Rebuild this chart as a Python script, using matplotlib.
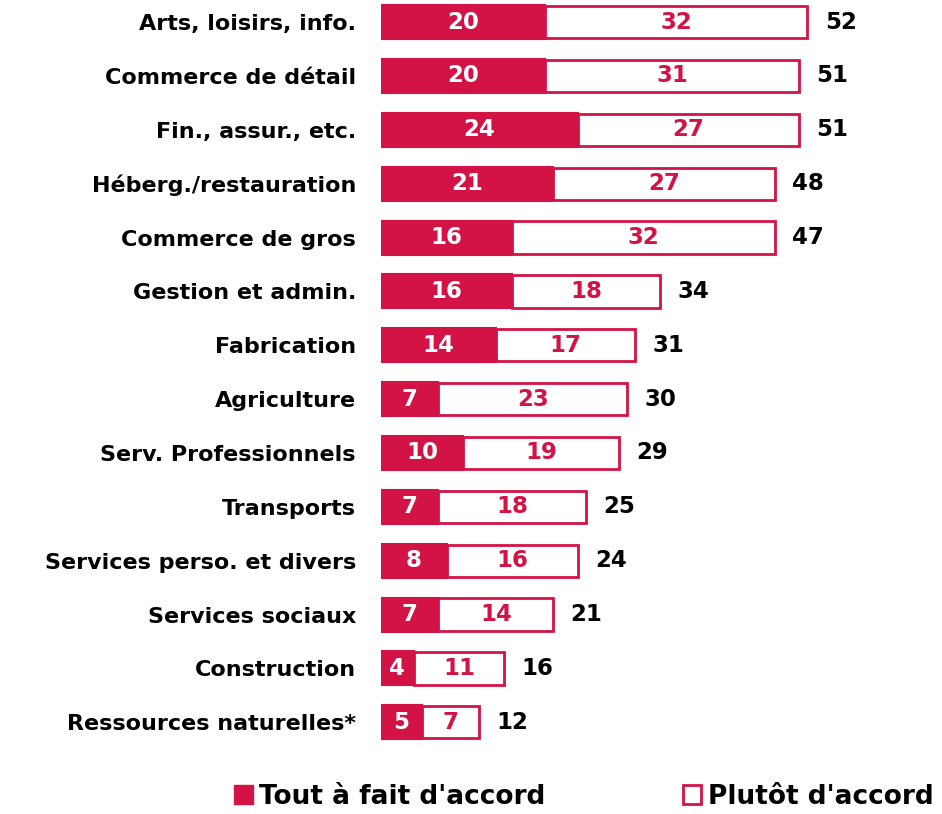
import matplotlib.pyplot as plt
from matplotlib.patches import Patch

# Secteurs et pourcentages (tout à fait / plutôt d'accord)
secteurs = ["Arts, loisirs, info.", "Commerce de détail", "Fin., assur., etc.",
            "Héberg./restauration", "Commerce de gros", "Gestion et admin.",
            "Fabrication", "Agriculture", "Serv. Professionnels", "Transports",
            "Services perso. et divers", "Services sociaux", "Construction",
            "Ressources naturelles*"]
tout_a_fait = [20, 20, 24, 21, 16, 16, 14, 7, 10, 7, 8, 7, 4, 5]
plutot = [32, 31, 27, 27, 32, 18, 17, 23, 19, 18, 16, 14, 11, 7]
totaux = [52, 51, 51, 48, 47, 34, 31, 30, 29, 25, 24, 21, 16, 12]

rouge = "#D31245"

plt.rcParams['font.family'] = ['DejaVu Sans']
plt.rcParams['font.weight'] = 'bold'

fig = plt.figure(figsize=(9.42, 8.14), dpi=100)
ax = fig.add_axes([381 / 942, 54 / 814, 561 / 942, 760 / 814])

y = list(range(len(secteurs)))
ax.barh(y, tout_a_fait, height=0.63, color=rouge, edgecolor=rouge, linewidth=1.5)
ax.barh(y, plutot, left=tout_a_fait, height=0.6, color="white",
        edgecolor=rouge, linewidth=2)

for i in y:
    ax.text(tout_a_fait[i] / 2, i, str(tout_a_fait[i]), color="white",
            ha="center", va="center", fontsize=16.5, fontweight="bold")
    ax.text(tout_a_fait[i] + plutot[i] / 2, i, str(plutot[i]), color=rouge,
            ha="center", va="center", fontsize=16.5, fontweight="bold")
    ax.text(tout_a_fait[i] + plutot[i] + 2.1, i, str(totaux[i]), color="black",
            ha="left", va="center", fontsize=16.5, fontweight="bold")

ax.set_xlim(0, 68.4)
ax.set_ylim(13.70, -0.41)
ax.set_yticks(y)
ax.set_yticklabels(secteurs, fontsize=16, fontweight="bold")
ax.tick_params(axis="y", length=0, pad=18)
ax.set_xticks([])
for s in ax.spines.values():
    s.set_visible(False)

handles = [Patch(facecolor=rouge, edgecolor=rouge, label="Tout à fait d'accord"),
           Patch(facecolor="white", edgecolor=rouge, linewidth=2, label="Plutôt d'accord")]
fig.legend(handles=handles, loc="lower center", bbox_to_anchor=(0.62, -0.024), ncol=2,
           frameon=False, fontsize=19, handlelength=0.7, handleheight=0.7,
           handletextpad=0.25, columnspacing=5.2)

fig.savefig("out.png", dpi=100)
